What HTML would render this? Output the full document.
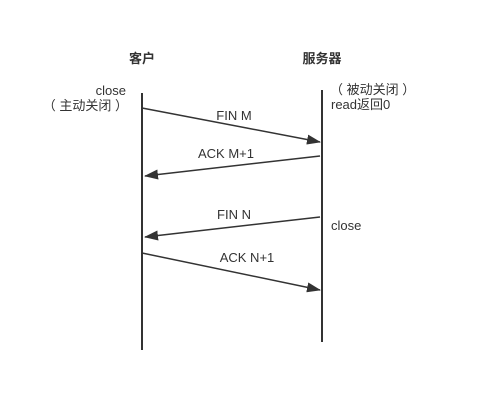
<!DOCTYPE html>
<html><head><meta charset="utf-8"><style>
html,body{margin:0;padding:0;background:#fff;}
svg{display:block;font-family:"Liberation Sans","Noto Sans CJK SC",sans-serif;}
</style></head><body>
<svg width="484" height="411" viewBox="0 0 484 411">
<defs><marker id="ah" markerWidth="14" markerHeight="10" refX="13" refY="5" orient="auto" markerUnits="userSpaceOnUse"><path d="M0,0 L14,5 L0,10 Z" fill="#333"/></marker></defs>
<g fill="#333" font-size="13">
<text x="142" y="63" text-anchor="middle" font-weight="bold">客户</text>
<text x="322" y="63" text-anchor="middle" font-weight="bold">服务器</text>
<text x="126" y="95" text-anchor="end">close</text>
<text x="128" y="110" text-anchor="end">（ 主动关闭 ）</text>
<text x="330" y="94">（ 被动关闭 ）</text>
<text x="331" y="109">read返回0</text>
<text x="331" y="230">close</text>
<text x="234" y="120" text-anchor="middle">FIN M</text>
<text x="226" y="158" text-anchor="middle">ACK M+1</text>
<text x="234" y="219" text-anchor="middle">FIN N</text>
<text x="247" y="262" text-anchor="middle">ACK N+1</text>
</g>
<g stroke="#333" stroke-width="2">
<line x1="142" y1="93" x2="142" y2="350"/>
<line x1="322" y1="90" x2="322" y2="342"/>
<line x1="142" y1="108" x2="320" y2="142" marker-end="url(#ah)" stroke-width="1.5"/>
<line x1="320" y1="156" x2="145" y2="176" marker-end="url(#ah)" stroke-width="1.5"/>
<line x1="320" y1="217" x2="145" y2="237" marker-end="url(#ah)" stroke-width="1.5"/>
<line x1="142" y1="253" x2="320" y2="290" marker-end="url(#ah)" stroke-width="1.5"/>
</g>
</svg>
</body></html>
